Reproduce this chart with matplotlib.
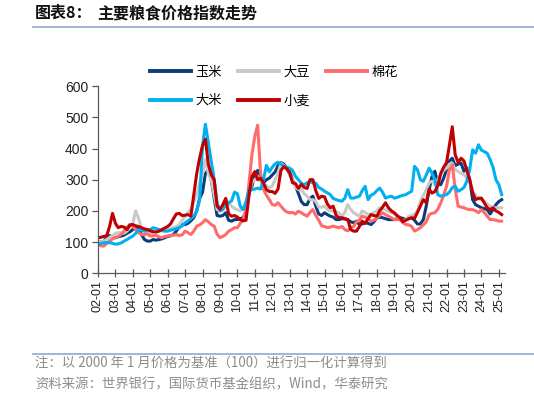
import matplotlib
matplotlib.use("Agg")
import matplotlib.pyplot as plt
import matplotlib.dates as mdates
from matplotlib.lines import Line2D
import pandas as pd

# Bi-monthly samples (Jan, Mar, May, Jul, Sep, Nov) from 2002-01 to 2025-03
dates = pd.date_range("2002-01-01", periods=140, freq="2MS")

corn = [
    98, 100, 102, 115, 121, 114,      # 2002
    114, 117, 119, 122, 128, 133,     # 2003
    140, 145, 146, 124, 108, 103,     # 2004
    103, 108, 106, 108, 110, 114,     # 2005
    118, 120, 124, 135, 150, 156,     # 2006
    156, 160, 168, 178, 200, 240,     # 2007
    260, 320, 332, 300, 240, 185,     # 2008
    183, 185, 194, 170, 167, 172,     # 2009
    172, 175, 178, 199, 257, 279,     # 2010
    315, 330, 300, 290, 300, 305,     # 2011
    315, 325, 345, 355, 350, 335,     # 2012
    325, 300, 280, 256, 230, 220,     # 2013
    220, 240, 247, 215, 190, 185,     # 2014
    194, 188, 183, 180, 172, 172,     # 2015
    175, 174, 172, 165, 162, 167,     # 2016
    156, 158, 162, 160, 156, 165,     # 2017
    178, 180, 178, 175, 172, 172,     # 2018
    172, 175, 178, 176, 172, 175,     # 2019
    178, 170, 158, 158, 172, 215,     # 2020
    268, 310, 327, 289, 284, 305,     # 2021
    332, 360, 369, 345, 350, 353,     # 2022
    327, 337, 300, 236, 220, 215,     # 2023
    210, 207, 204, 190, 204, 220,     # 2024
    230, 236,                         # 2025
]

soybean = [
    98, 100, 103, 108, 115, 120,
    128, 130, 130, 128, 135, 148,
    160, 200, 175, 146, 135, 130,
    128, 132, 140, 138, 135, 136,
    140, 143, 146, 150, 156, 170,
    183, 195, 204, 230, 250, 289,
    320, 364, 320, 300, 250, 204,
    200, 205, 236, 225, 215, 208,
    204, 200, 210, 220, 255, 290,
    300, 311, 295, 284, 280, 273,
    280, 300, 321, 353, 345, 332,
    315, 300, 275, 268, 270, 255,
    247, 236, 236, 230, 212, 212,
    215, 205, 199, 200, 199, 192,
    183, 195, 220, 205, 194, 188,
    183, 200, 195, 188, 190, 194,
    200, 210, 207, 204, 198, 194,
    190, 183, 175, 167, 172, 183,
    185, 190, 200, 231, 250, 268,
    290, 295, 285, 300, 316, 330,
    337, 350, 353, 332, 327, 320,
    316, 305, 295, 263, 250, 241,
    235, 231, 222, 215, 210, 210,
    210, 210,
]

cotton = [
    93, 88, 87, 95, 103, 110,
    114, 118, 125, 135, 148, 156,
    150, 140, 130, 124, 124, 126,
    119, 120, 121, 117, 114, 118,
    119, 121, 122, 124, 121, 123,
    135, 130, 124, 135, 151, 155,
    162, 172, 165, 156, 151, 125,
    114, 118, 124, 135, 140, 146,
    146, 160, 172, 205, 290, 380,
    440, 475, 321, 270, 250, 236,
    220, 218, 226, 215, 204, 196,
    194, 195, 190, 199, 194, 188,
    183, 195, 204, 185, 170, 152,
    150, 146, 148, 151, 148, 146,
    150, 140, 136, 146, 150, 165,
    170, 183, 180, 175, 167, 170,
    178, 185, 194, 188, 183, 178,
    172, 172, 172, 162, 156, 155,
    150, 135, 140, 146, 155, 165,
    188, 192, 194, 205, 225, 250,
    279, 330, 348, 270, 215, 212,
    210, 206, 204, 204, 200, 194,
    204, 195, 183, 172, 172, 170,
    167, 167,
]

rice = [
    93, 95, 98, 98, 98, 96,
    93, 94, 97, 103, 108, 114,
    119, 128, 140, 138, 135, 138,
    140, 146, 143, 140, 138, 135,
    135, 138, 140, 143, 146, 152,
    162, 168, 175, 183, 200, 235,
    410, 478, 420, 360, 300, 225,
    200, 204, 220, 226, 232, 260,
    255, 215, 204, 230, 268, 268,
    270, 273, 270, 300, 346, 325,
    340, 351, 356, 350, 343, 340,
    337, 330, 311, 300, 289, 284,
    290, 295, 290, 289, 275, 270,
    263, 258, 252, 240, 236, 233,
    231, 241, 268, 241, 241, 244,
    247, 265, 279, 236, 250, 255,
    265, 273, 260, 241, 245, 247,
    241, 243, 247, 250, 252, 258,
    263, 343, 332, 300, 295, 315,
    337, 321, 300, 252, 247, 250,
    252, 260, 275, 279, 263, 268,
    275, 295, 332, 396, 385, 412,
    395, 390, 385, 365, 340, 300,
    284, 252,
]

wheat = [
    114, 115, 118, 120, 150, 192,
    160, 146, 150, 148, 140, 155,
    156, 152, 150, 146, 142, 140,
    136, 133, 132, 135, 140, 145,
    150, 158, 175, 190, 192, 185,
    186, 188, 183, 250, 320, 370,
    410, 430, 350, 316, 300, 215,
    205, 220, 240, 190, 183, 185,
    180, 172, 168, 170, 250, 310,
    326, 300, 305, 290, 268, 262,
    262, 256, 270, 330, 342, 335,
    321, 290, 288, 272, 285, 275,
    272, 300, 300, 265, 240, 247,
    245, 222, 210, 215, 185, 178,
    178, 175, 172, 140, 135, 135,
    150, 167, 160, 175, 188, 185,
    183, 200, 212, 226, 210, 200,
    194, 185, 178, 165, 170, 175,
    178, 176, 195, 215, 236, 226,
    270, 257, 262, 280, 320, 340,
    355, 410, 470, 380, 355, 369,
    360, 330, 300, 260, 236, 240,
    241, 226, 210, 204, 210, 200,
    195, 188,
]

series_names = ["玉米", "大豆", "棉花", "大米", "小麦"]
series_values = [corn, soybean, cotton, rice, wheat]
series_colors = ["#0B3C7D", "#C9C9C9", "#FF6B6B", "#00B0F0", "#C00000"]

title_head = "图表8："
title_main = "主要粮食价格指数走势"
note_text = "注：以 2000 年 1 月价格为基准（100）进行归一化计算得到"
source_text = "资料来源：世界银行，国际货币基金组织，Wind，华泰研究"

cjk = ["Noto Sans CJK SC", "DejaVu Sans"]
plt.rcParams["font.family"] = ["Liberation Sans", "Noto Sans CJK SC", "DejaVu Sans"]

fig = plt.figure(figsize=(5.34, 3.98), dpi=100)
ax = fig.add_axes([98 / 534, 1 - 273.2 / 398, (505 - 98) / 534, (273.2 - 86.2) / 398])

for name, vals, col in zip(series_names, series_values, series_colors):
    ax.plot(dates, vals, color=col, lw=2.2, label=name, solid_joinstyle="round")

ax.set_ylim(0, 600)
ax.set_yticks(range(0, 601, 100))
ax.set_xlim(pd.Timestamp("2002-01-01"), pd.Timestamp("2025-05-10"))
ax.xaxis.set_major_locator(mdates.YearLocator(1, month=1, day=1))
ax.xaxis.set_major_formatter(mdates.DateFormatter("%y-%m"))

for s in ["top", "right"]:
    ax.spines[s].set_visible(False)
for s in ["left", "bottom"]:
    ax.spines[s].set_color("#595959")
    ax.spines[s].set_linewidth(0.9)

ax.tick_params(axis="y", direction="out", length=4, width=0.9, color="#595959",
               labelsize=10, pad=3, labelcolor="#222222")
ax.tick_params(axis="x", direction="inout", length=6, width=0.9, color="#595959",
               labelsize=9, pad=2, labelrotation=90, labelcolor="#222222")

# legend laid out row-wise: 玉米 大豆 棉花 / 大米 小麦
order = [0, 3, 1, 4, 2]
handles = [Line2D([0], [0], color=series_colors[i], lw=2.8) for i in order]
labels = [series_names[i] for i in order]
leg = fig.legend(handles, labels, loc="upper left",
                 bbox_to_anchor=(150 / 534, 1 - 66 / 398), ncol=3, frameon=False,
                 prop={"family": cjk, "size": 9.5}, handlelength=3.1,
                 handletextpad=0.35, columnspacing=1.2, labelspacing=1.15,
                 borderpad=0, borderaxespad=0)

fig.text(35 / 534, 1 - 13 / 398, title_head, fontsize=11.5, fontweight="bold",
         family=cjk, va="center", ha="left", color="#111111")
fig.text(97 / 534, 1 - 13 / 398, title_main, fontsize=11.5, fontweight="bold",
         family=cjk, va="center", ha="left", color="#111111")
fig.add_artist(Line2D([33 / 534, 1.0], [1 - 27 / 398, 1 - 27 / 398],
                      color="#8EA9D6", lw=1.2))
fig.add_artist(Line2D([33 / 534, 1.0], [1 - 354 / 398, 1 - 354 / 398],
                      color="#8EA9D6", lw=1.2))
fig.text(35 / 534, 1 - 364 / 398, note_text, fontsize=9.6, family=cjk,
         va="center", ha="left", color="#8C8C8C")
fig.text(35 / 534, 1 - 384 / 398, source_text, fontsize=9.6, family=cjk,
         va="center", ha="left", color="#8C8C8C")

fig.savefig("out.png", dpi=100)
